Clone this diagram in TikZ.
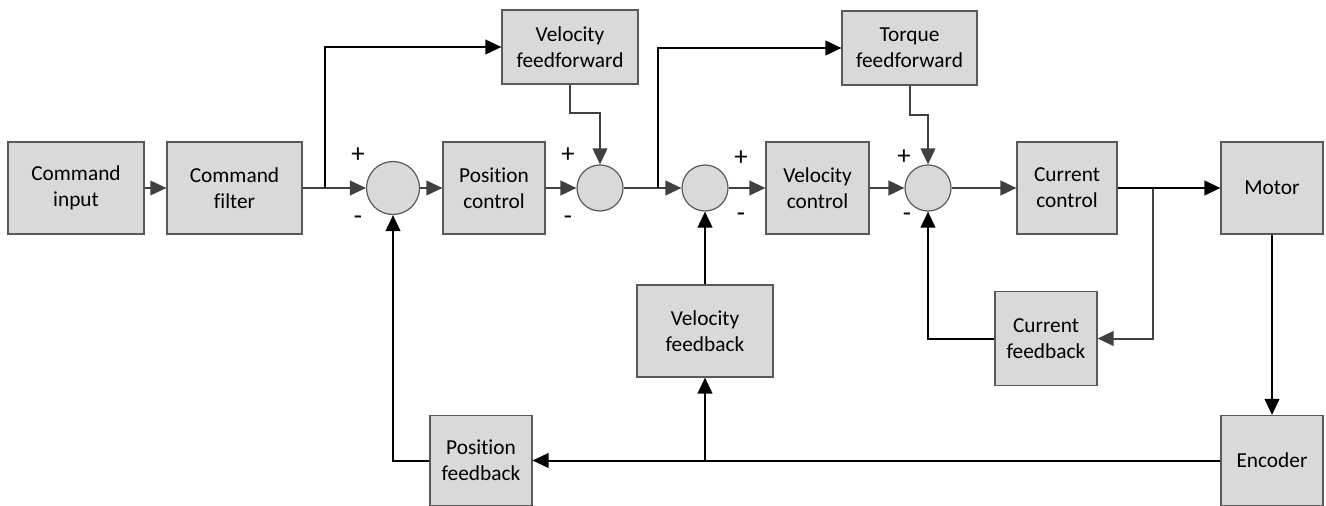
\documentclass[tikz,border=0pt]{standalone}
\usepackage{fontspec}
\setmainfont{Carlito}[Ligatures=NoCommon]
\usepackage{tikz}
\usetikzlibrary{arrows.meta}
\definecolor{boxgray}{HTML}{D9D9D9}
\definecolor{edgegray}{HTML}{595959}
\definecolor{wiregray}{HTML}{404040}
\tikzset{
  blk/.style={draw=edgegray,fill=boxgray,line width=0.9pt,align=center,inner sep=2pt,font=\fontsize{16}{19.5}\selectfont},
  sumc/.style={circle,draw=edgegray,fill=boxgray,line width=0.9pt,minimum size=#1,inner sep=0pt},
  gwire/.style={draw=wiregray,line width=1.5pt,-{Triangle[length=12pt,width=11pt]}},
  bwire/.style={draw=black,line width=1.5pt,-{Triangle[length=12pt,width=11pt]}},
  sgn/.style={inner sep=0pt,font=\fontsize{20}{20}\selectfont}
}
\begin{document}
\begin{tikzpicture}[x=0.75pt,y=-0.75pt]
\useasboundingbox (0,0) rectangle (1326,506);
\node[blk,minimum width=102pt,minimum height=69pt] (cin) at (76,188) {Command\\input};
\node[blk,minimum width=101.25pt,minimum height=69pt] (cfilt) at (234.5,188) {Command\\filter};
\node[sumc=39.75pt] (s1) at (393,188) {};
\node[blk,minimum width=76.5pt,minimum height=69pt] (pctl) at (494,188) {Position\\control};
\node[sumc=34.5pt] (s2) at (600,188) {};
\node[blk,minimum width=102pt,minimum height=55.5pt] (vff) at (570,47) {Velocity\\feedforward};
\node[sumc=34.5pt] (s3) at (705,188) {};
\node[blk,minimum width=77.25pt,minimum height=69pt] (vctl) at (817.5,188) {Velocity\\control};
\node[sumc=34.5pt] (s4) at (928,188) {};
\node[blk,minimum width=101.25pt,minimum height=55.5pt] (tff) at (909.5,48) {Torque\\feedforward};
\node[blk,minimum width=75pt,minimum height=69pt] (cctl) at (1067,188) {Current\\control};
\node[blk,minimum width=76.5pt,minimum height=69pt] (mot) at (1272,188) {Motor};
\node[blk,minimum width=102pt,minimum height=69pt] (vfb) at (705,331) {Velocity\\feedback};
\node[blk,minimum width=76.5pt,minimum height=70pt] (cfb) at (1046,338.5) {Current\\feedback};
\node[blk,minimum width=76.5pt,minimum height=67.5pt] (pfb) at (481,460.5) {Position\\feedback};
\node[blk,minimum width=76.5pt,minimum height=67.5pt] (enc) at (1272,460.5) {Encoder};
\node[sgn] (p1) at (358,155) {+};
\node[sgn] (m1) at (358,220) {-};
\node[sgn] (p2) at (568,155) {+};
\node[sgn] (m2) at (568,220) {-};
\node[sgn] (p3) at (741,158) {+};
\node[sgn] (m3) at (741,217) {-};
\node[sgn] (p4) at (904,157) {+};
\node[sgn] (m4) at (907,217) {-};
\coordinate (b1) at (325,188);
\coordinate (b2) at (658,188);
\coordinate (b3) at (1153,188);
\coordinate (b4) at (705,460.5);
\draw[gwire] (cin) -- (cfilt);
\draw[gwire] (cfilt) -- (s1);
\draw[gwire] (s1) -- (pctl);
\draw[gwire] (pctl) -- (s2);
\draw[gwire] (vff.south) -- ++(0,28) -| (s2);
\draw[gwire] (s2) -- (s3);
\draw[gwire] (s3) -- (vctl);
\draw[gwire] (vctl) -- (s4);
\draw[gwire] (tff.south) -- ++(0,29) -| (s4);
\draw[gwire] (s4) -- (cctl);
\draw[gwire] (b3) |- (cfb);
\draw[bwire] (b1) |- (vff);
\draw[bwire] (b2) |- (tff);
\draw[bwire] (cctl) -- (mot);
\draw[bwire] (cfb) -| (s4);
\draw[bwire] (mot) -- (enc);
\draw[bwire] (enc) -- (pfb);
\draw[bwire] (b4) -- (vfb);
\draw[bwire] (vfb) -- (s3);
\draw[bwire] (pfb) -| (s1);
\end{tikzpicture}
\end{document}
